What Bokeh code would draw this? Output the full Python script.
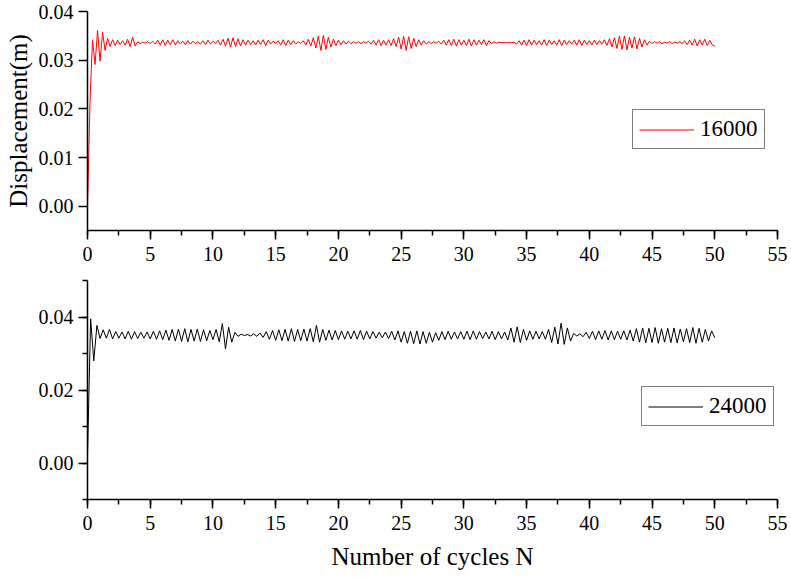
from bokeh.plotting import figure
from bokeh.layouts import column
from bokeh.models import Range1d, SingleIntervalTicker, NumeralTickFormatter, Legend, LegendItem
from bokeh.embed import file_html
from bokeh.resources import INLINE

# ---------------- data ----------------
step_16000 = 0.2    # cycles between samples, series 16000
step_24000 = 0.25   # cycles between samples, series 24000

disp_16000 = [
    0.0000, 0.0215, 0.0342, 0.0291, 0.0361, 0.0298, 0.0357, 0.0320, 0.0345, 0.0328,
    0.0342, 0.0330, 0.0341, 0.0332, 0.0340, 0.0331, 0.0343, 0.0328, 0.0347, 0.0329,
    0.0338, 0.0334, 0.0337, 0.0335, 0.0338, 0.0334, 0.0339, 0.0333, 0.0341, 0.0331,
    0.0342, 0.0330, 0.0341, 0.0332, 0.0342, 0.0331, 0.0340, 0.0333, 0.0339, 0.0332,
    0.0340, 0.0333, 0.0339, 0.0334, 0.0338, 0.0333, 0.0340, 0.0332, 0.0341, 0.0333,
    0.0339, 0.0334, 0.0341, 0.0331, 0.0343, 0.0329, 0.0345, 0.0327, 0.0346, 0.0328,
    0.0344, 0.0329, 0.0342, 0.0331, 0.0341, 0.0332, 0.0340, 0.0331, 0.0341, 0.0332,
    0.0342, 0.0330, 0.0341, 0.0333, 0.0339, 0.0334, 0.0340, 0.0331, 0.0342, 0.0330,
    0.0341, 0.0332, 0.0340, 0.0333, 0.0338, 0.0334, 0.0340, 0.0331, 0.0343, 0.0329,
    0.0346, 0.0325, 0.0349, 0.0320, 0.0351, 0.0322, 0.0347, 0.0327, 0.0343, 0.0330,
    0.0341, 0.0332, 0.0340, 0.0333, 0.0339, 0.0334, 0.0338, 0.0335, 0.0338, 0.0334,
    0.0338, 0.0335, 0.0339, 0.0333, 0.0341, 0.0331, 0.0342, 0.0330, 0.0341, 0.0331,
    0.0342, 0.0330, 0.0344, 0.0328, 0.0347, 0.0323, 0.0349, 0.0320, 0.0348, 0.0324,
    0.0345, 0.0328, 0.0342, 0.0331, 0.0340, 0.0333, 0.0338, 0.0334, 0.0338, 0.0335,
    0.0339, 0.0333, 0.0341, 0.0331, 0.0342, 0.0330, 0.0343, 0.0329, 0.0342, 0.0331,
    0.0341, 0.0330, 0.0343, 0.0329, 0.0342, 0.0331, 0.0341, 0.0332, 0.0342, 0.0330,
    0.0340, 0.0334, 0.0338, 0.0335, 0.0337, 0.0336, 0.0336, 0.0336, 0.0336, 0.0336,
    0.0337, 0.0333, 0.0340, 0.0331, 0.0341, 0.0330, 0.0342, 0.0331, 0.0341, 0.0332,
    0.0340, 0.0331, 0.0342, 0.0330, 0.0341, 0.0332, 0.0340, 0.0331, 0.0342, 0.0330,
    0.0341, 0.0332, 0.0340, 0.0333, 0.0341, 0.0331, 0.0342, 0.0330, 0.0341, 0.0332,
    0.0340, 0.0331, 0.0341, 0.0332, 0.0340, 0.0333, 0.0342, 0.0330, 0.0344, 0.0327,
    0.0346, 0.0324, 0.0349, 0.0322, 0.0350, 0.0321, 0.0347, 0.0325, 0.0348, 0.0323,
    0.0345, 0.0327, 0.0342, 0.0331, 0.0339, 0.0334, 0.0338, 0.0335, 0.0338, 0.0334,
    0.0337, 0.0335, 0.0338, 0.0334, 0.0337, 0.0335, 0.0338, 0.0334, 0.0340, 0.0332,
    0.0341, 0.0331, 0.0343, 0.0329, 0.0342, 0.0331, 0.0343, 0.0330, 0.0341, 0.0331,
    0.0329,
]

disp_24000 = [
    0.0020, 0.0395, 0.0280, 0.0377, 0.0341, 0.0365, 0.0342, 0.0366, 0.0340, 0.0360,
    0.0342, 0.0359, 0.0340, 0.0361, 0.0339, 0.0360, 0.0341, 0.0358, 0.0342, 0.0359,
    0.0340, 0.0361, 0.0339, 0.0362, 0.0338, 0.0364, 0.0336, 0.0366, 0.0334, 0.0367,
    0.0333, 0.0368, 0.0332, 0.0366, 0.0334, 0.0367, 0.0333, 0.0365, 0.0335, 0.0363,
    0.0338, 0.0366, 0.0332, 0.0382, 0.0313, 0.0372, 0.0331, 0.0358, 0.0347, 0.0353,
    0.0349, 0.0352, 0.0348, 0.0354, 0.0347, 0.0356, 0.0344, 0.0360, 0.0339, 0.0363,
    0.0336, 0.0365, 0.0335, 0.0366, 0.0334, 0.0368, 0.0333, 0.0366, 0.0335, 0.0367,
    0.0334, 0.0368, 0.0332, 0.0377, 0.0331, 0.0366, 0.0336, 0.0364, 0.0337, 0.0363,
    0.0338, 0.0362, 0.0339, 0.0361, 0.0340, 0.0362, 0.0339, 0.0363, 0.0338, 0.0361,
    0.0340, 0.0360, 0.0342, 0.0358, 0.0343, 0.0359, 0.0341, 0.0361, 0.0337, 0.0362,
    0.0331, 0.0360, 0.0328, 0.0361, 0.0327, 0.0362, 0.0326, 0.0360, 0.0328, 0.0358,
    0.0331, 0.0357, 0.0336, 0.0360, 0.0338, 0.0361, 0.0339, 0.0359, 0.0340, 0.0360,
    0.0339, 0.0361, 0.0338, 0.0362, 0.0339, 0.0360, 0.0341, 0.0359, 0.0340, 0.0361,
    0.0338, 0.0360, 0.0340, 0.0359, 0.0337, 0.0370, 0.0331, 0.0373, 0.0330, 0.0366,
    0.0336, 0.0362, 0.0339, 0.0361, 0.0340, 0.0360, 0.0339, 0.0366, 0.0330, 0.0372,
    0.0326, 0.0383, 0.0325, 0.0370, 0.0334, 0.0355, 0.0348, 0.0354, 0.0346, 0.0358,
    0.0341, 0.0361, 0.0338, 0.0362, 0.0339, 0.0363, 0.0337, 0.0362, 0.0338, 0.0361,
    0.0339, 0.0362, 0.0337, 0.0364, 0.0334, 0.0368, 0.0331, 0.0370, 0.0329, 0.0369,
    0.0330, 0.0371, 0.0328, 0.0368, 0.0331, 0.0369, 0.0330, 0.0370, 0.0329, 0.0367,
    0.0332, 0.0368, 0.0330, 0.0371, 0.0328, 0.0369, 0.0331, 0.0366, 0.0334, 0.0362,
    0.0343,
]

cycles_16000 = [i * step_16000 for i in range(len(disp_16000))]
cycles_24000 = [i * step_24000 for i in range(len(disp_24000))]

series_labels = ["16000", "24000"]
x_title = "Number of cycles N"
y_title = "Displacement(m)"

FONT = "Liberation Serif"


def style_axes(p, y_interval, y_minor):
    p.xgrid.visible = False
    p.ygrid.visible = False
    p.outline_line_color = None
    xa = p.xaxis[0]
    ya = p.yaxis[0]
    xa.ticker = SingleIntervalTicker(interval=5, num_minor_ticks=2)
    ya.ticker = SingleIntervalTicker(interval=y_interval, num_minor_ticks=y_minor)
    ya.formatter = NumeralTickFormatter(format="0.00")
    for ax in (xa, ya):
        ax.axis_line_width = 1.5
        ax.axis_line_color = "black"
        ax.major_tick_line_width = 1.5
        ax.minor_tick_line_width = 1.5
        ax.major_tick_line_color = "black"
        ax.minor_tick_line_color = "black"
        ax.major_tick_in = 0
        ax.minor_tick_in = 0
        ax.major_tick_out = 9
        ax.minor_tick_out = 5
        ax.major_label_text_font = FONT
        ax.major_label_text_font_size = "20px"
        ax.major_label_text_color = "black"
        ax.axis_label_text_font = FONT
        ax.axis_label_text_font_size = "25px"
        ax.axis_label_text_font_style = "normal"
        ax.axis_label_text_color = "black"
    xa.major_label_standoff = 7
    ya.major_label_standoff = 5
    if y_minor <= 1:
        ya.minor_tick_line_color = None


def add_legend(p, renderer, label, x, y):
    leg = Legend(items=[LegendItem(label=label, renderers=[renderer])],
                 location=(x, y))
    leg.label_text_font = FONT
    leg.label_text_font_size = "23px"
    leg.label_text_color = "black"
    leg.glyph_width = 55
    leg.glyph_height = 23
    leg.label_height = 23
    leg.label_standoff = 6
    leg.padding = 6
    leg.margin = 0
    leg.spacing = 0
    leg.border_line_color = "black"
    leg.border_line_width = 1
    leg.background_fill_color = "white"
    leg.background_fill_alpha = 1
    p.add_layout(leg, "center")


# ---------------- top panel ----------------
p1 = figure(frame_width=690, frame_height=219,
            x_range=Range1d(0, 55), y_range=Range1d(-0.005, 0.04),
            min_border_left=87, min_border_right=14,
            min_border_top=11, min_border_bottom=41,
            output_backend="svg", toolbar_location=None,
            background_fill_color="white", border_fill_color="white")
r1 = p1.line(cycles_16000, disp_16000, line_color="#FF0000", line_width=1)
style_axes(p1, 0.01, 1)
p1.yaxis[0].axis_label = y_title
p1.yaxis[0].axis_label_standoff = 4
add_legend(p1, r1, series_labels[0], 545, 81)

# ---------------- bottom panel ----------------
p2 = figure(frame_width=690, frame_height=219,
            x_range=Range1d(0, 55), y_range=Range1d(-0.01, 0.05),
            min_border_left=87, min_border_right=14,
            min_border_top=9, min_border_bottom=78,
            output_backend="svg", toolbar_location=None,
            background_fill_color="white", border_fill_color="white")
r2 = p2.line(cycles_24000, disp_24000, line_color="black", line_width=1)
style_axes(p2, 0.02, 2)
p2.xaxis[0].axis_label = x_title
p2.xaxis[0].axis_label_standoff = 10
add_legend(p2, r2, series_labels[1], 554, 73)

layout = column(p1, p2, spacing=0)

open("out.html", "w").write(file_html(layout, INLINE))
